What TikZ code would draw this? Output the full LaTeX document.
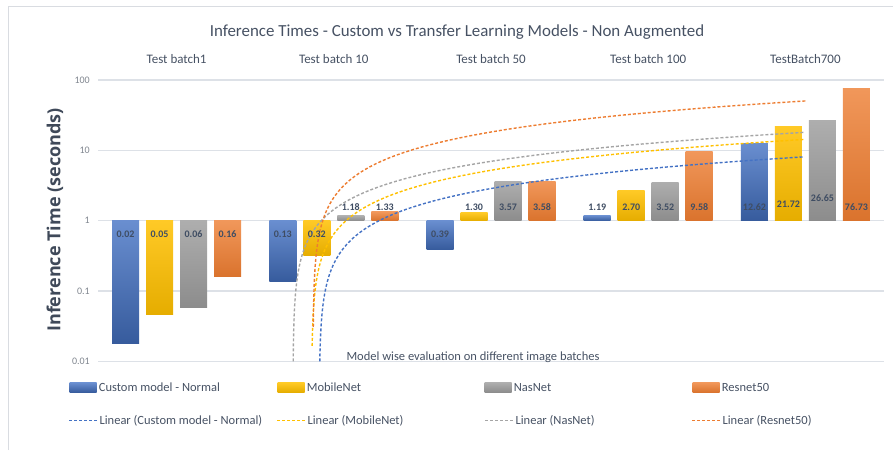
\documentclass[tikz,border=0pt]{standalone}
\usepackage{fontspec}
\setmainfont{Carlito}
\newfontfamily\axisfont{Open Sans}
\usepackage{tikz}
\usetikzlibrary{positioning}
\definecolor{txtgray}{HTML}{465163}
\definecolor{lblgray}{HTML}{3F4D63}
\definecolor{tickgray}{HTML}{80868F}
\definecolor{gridgray}{HTML}{DDE1E7}
\definecolor{framegray}{HTML}{D9DCE1}
\definecolor{cblue}{HTML}{4472C4}
\definecolor{cyellow}{HTML}{FFC000}
\definecolor{cgray}{HTML}{A5A5A5}
\definecolor{corange}{HTML}{ED7D31}
\tikzset{
  barblue/.style={top color=cblue!80!white, bottom color=cblue!80!black},
  baryellow/.style={top color=cyellow!85!white, bottom color=cyellow!90!black},
  bargray/.style={top color=cgray!90!white, bottom color=cgray!85!black},
  barorange/.style={top color=corange!80!white, bottom color=corange!92!black},
  trend/.style={line width=1.4pt, dash pattern=on 3pt off 2pt},
  datalbl/.style={inner sep=0pt, text=lblgray, font=\fontsize{10}{12}\selectfont\bfseries},
  catlbl/.style={inner sep=0pt, text=txtgray, font=\fontsize{13}{15}\selectfont},
  ticklbl/.style={inner sep=0pt, anchor=east, text=tickgray, font=\fontsize{10}{12}\selectfont},
  lgd/.style={inner sep=0pt, anchor=west, text=txtgray, font=\fontsize{12.5}{14}\selectfont},
  swatch/.style={inner sep=0pt, minimum width=27pt, minimum height=9.6pt},
}
\begin{document}
\begin{tikzpicture}[x=1pt,y=-1pt]
\useasboundingbox (0,0) rectangle (893,450);
\draw[framegray, line width=1pt] (8.3,450) -- (8.3,6.7) -- (893,6.7);
% grid and y ticks
\foreach \k/\t in {2/100,1/10,0/1,-1/0.1,-2/0.01} {
  \draw[gridgray, line width=1.5pt] (98,{220.7-70.3*\k}) -- (884,{220.7-70.3*\k});
  \node[ticklbl] (tick\t) at (90,{220.7-70.3*\k}) {\t};
}
\node[inner sep=0pt, text=txtgray, font=\fontsize{16.9}{19}\selectfont] (title) at (457,32)
  {Inference Times - Custom vs Transfer Learning Models - Non Augmented};
\node[inner sep=0pt, rotate=90, text=txtgray!90!black, font=\axisfont\fontsize{18}{20}\selectfont\bfseries] (ylabel) at (55,220)
  {Inference Time (seconds)};
\foreach \k/\t in {1/Test batch1,2/Test batch 10,3/Test batch 50,4/Test batch 100,5/TestBatch700}
  \node[catlbl] (cat\k) at ({19.4+157.2*\k},59) {\t};
% bars
\foreach \k/\va/\vb/\vc/\vd in {1/0.0176/0.046/0.058/0.16, 2/0.134/0.32/1.18/1.33,
    3/0.39/1.30/3.57/3.58, 4/1.19/2.70/3.52/9.58, 5/12.62/21.72/26.65/76.73} {
  \pgfmathsetmacro\cx{19.4+157.2*\k}
  \shade[barblue] (\cx-64.5,220.7) rectangle (\cx-37.5,{220.7-70.3*log10(\va)});
  \shade[baryellow] (\cx-30.5,220.7) rectangle (\cx-3.5,{220.7-70.3*log10(\vb)});
  \shade[bargray] (\cx+3.5,220.7) rectangle (\cx+30.5,{220.7-70.3*log10(\vc)});
  \shade[barorange] (\cx+37.5,220.7) rectangle (\cx+64.5,{220.7-70.3*log10(\vd)});
}
% linear trendlines
\draw[trend, cblue] plot[variable=\u, domain=-2:0.9097, samples=80]
  ({19.4+157.2*(pow(10,\u)+5.008)/2.626}, {220.7-70.3*\u});
\draw[trend, cyellow] plot[variable=\u, domain=-1.78:1.1572, samples=80]
  ({19.4+157.2*(pow(10,\u)+8.498)/4.572}, {220.7-70.3*\u});
\draw[trend, cgray] plot[variable=\u, domain=-2:1.2577, samples=80]
  ({19.4+157.2*(pow(10,\u)+9.66)/5.552}, {220.7-70.3*\u});
\draw[trend, corange] plot[variable=\u, domain=-1.51:1.7038, samples=80]
  ({19.4+157.2*(pow(10,\u)+30.141)/16.139}, {220.7-70.3*\u});
% data labels
\foreach \k/\j/\y/\t [count=\i] in {1/1/234.5/0.02, 1/2/234.5/0.05, 1/3/234.5/0.06, 1/4/234.5/0.16,
    2/1/234.5/0.13, 2/2/234.5/0.32, 2/3/207/1.18, 2/4/207/1.33,
    3/1/234.5/0.39, 3/2/207/1.30, 3/3/207/3.57, 3/4/207/3.58,
    4/1/207/1.19, 4/2/207/2.70, 4/3/207/3.52, 4/4/207/9.58,
    5/1/207/12.62, 5/2/204.7/21.72, 5/3/197.7/26.65, 5/4/207/76.73}
  \node[datalbl] (val\i) at ({19.4+157.2*\k+34*\j-85},\y) {\t};
\node[inner sep=0pt, anchor=base, text=txtgray, font=\fontsize{12.5}{14}\selectfont] (xlabel) at (473,360)
  {Model wise evaluation on different image batches};
% legend
\node[swatch, barblue] (swblue) at (83,387.5) {};
\node[lgd, right=2pt of swblue] (lgblue) {Custom model - Normal};
\node[swatch, baryellow] (swyellow) at (291,387.5) {};
\node[lgd, right=2pt of swyellow] (lgyellow) {MobileNet};
\node[swatch, bargray] (swgray) at (498,387.5) {};
\node[lgd, right=2pt of swgray] (lggray) {NasNet};
\node[swatch, barorange] (sworange) at (706,387.5) {};
\node[lgd, right=2pt of sworange] (lgorange) {Resnet50};
\coordinate (tlblue) at (69,420.7);
\coordinate (tlyellow) at (277,420.7);
\coordinate (tlgray) at (485,420.7);
\coordinate (tlorange) at (692,420.7);
\draw[trend, cblue, line width=1.2pt] (tlblue) -- ++(28,0) node[lgd, right=2pt] (ltblue) {Linear (Custom model - Normal)};
\draw[trend, cyellow, line width=1.2pt] (tlyellow) -- ++(28,0) node[lgd, right=2pt] (ltyellow) {Linear (MobileNet)};
\draw[trend, cgray, line width=1.2pt] (tlgray) -- ++(28,0) node[lgd, right=2pt] (ltgray) {Linear (NasNet)};
\draw[trend, corange, line width=1.2pt] (tlorange) -- ++(28,0) node[lgd, right=2pt] (ltorange) {Linear (Resnet50)};
\end{tikzpicture}
\end{document}
